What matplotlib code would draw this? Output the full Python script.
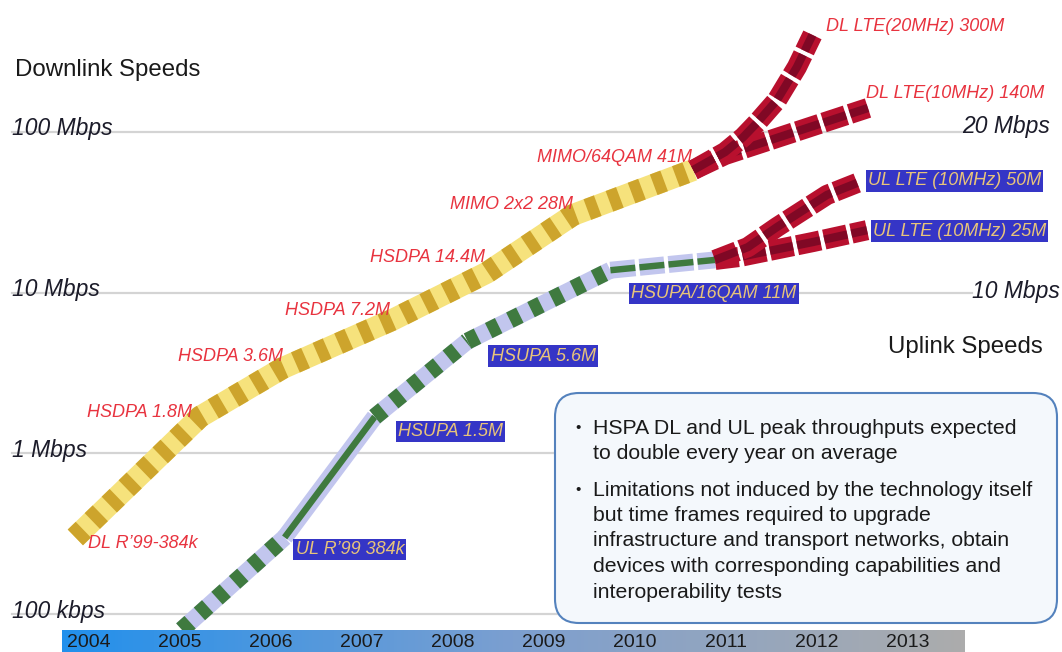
import numpy as np
import matplotlib.pyplot as plt
from matplotlib.patches import FancyBboxPatch
from matplotlib.colors import LinearSegmentedColormap
from matplotlib.transforms import blended_transform_factory

plt.rcParams['font.family'] = ['Liberation Sans', 'DejaVu Sans']
plt.rcParams['lines.scale_dashes'] = False

# ---- data (x = year, y = Mbps) ----
years = list(range(2004, 2014))

dl_year = [2003.85, 2005.22, 2006.13, 2007.34, 2008.37, 2009.32, 2010.64]
dl_mbps = [0.30, 1.69, 3.4, 6.8, 13.3, 30.5, 58]
dl_labels = ["DL R\u201999-384k", "HSDPA 1.8M", "HSDPA 3.6M", "HSDPA 7.2M",
             "HSDPA 14.4M", "MIMO 2x2 28M", "MIMO/64QAM 41M"]

ul_year = [2005.02, 2006.15, 2007.14, 2008.16, 2009.73, 2010.88]
ul_mbps = [0.08, 0.30, 1.69, 5.0, 13.8, 16.0]
ul_labels = ["UL R\u201999 384k", "HSUPA 1.5M", "HSUPA 5.6M", "HSUPA/16QAM 11M"]

lte300_year = [2010.64, 2010.99, 2011.19, 2011.34, 2011.56, 2011.78, 2011.95]
lte300_mbps = [58, 75, 93, 114, 158, 254, 402]
lte140_year = [2010.64, 2010.99, 2012.56]
lte140_mbps = [58, 72, 141]
ul50_year = [2010.88, 2011.24, 2011.56, 2012.11, 2012.47]
ul50_mbps = [16.0, 19.2, 25.6, 40.6, 48.9]
ul25_year = [2010.88, 2011.15, 2011.96, 2012.55]
ul25_mbps = [16.0, 16.7, 20.7, 24.5]

grid_mbps = [0.1, 1, 10, 100]
grid_names = ["100 kbps", "1 Mbps", "10 Mbps", "100 Mbps"]

bullets = [
    ["HSPA DL and UL peak throughputs expected",
     "to double every year on average"],
    ["Limitations not induced by the technology itself",
     "but time frames required to upgrade",
     "infrastructure and transport networks, obtain",
     "devices with corresponding capabilities and",
     "interoperability tests"],
]

# ---- colours ----
RED_TXT = '#e8333f'
BOX_BLUE = '#3535c6'
BOX_TXT = '#e8c47a'
GOLD_LT, GOLD_DK = '#f6e27c', '#cda42c'
LAV, GREEN = '#c2c6ee', '#3f7a3f'
LTE, LTE_DK = '#b8102e', '#6e0622'

W, H = 1062, 652
fig = plt.figure(figsize=(W / 100, H / 100), dpi=100)


def px2year(px):
    return 2004 + (px - 89) / 91.0


def px2mbps(py):
    return 10 ** (2 - (py - 132) / 160.7)


ax = fig.add_axes([0, 22 / H, 1, 630 / H])
ax.set_yscale('log')
ax.set_xlim(px2year(0), px2year(W))
ax.set_ylim(px2mbps(630), px2mbps(0))
ax.axis('off')

# gridlines and their labels
ends = {0.1: 0.55, 1: 0.55, 10: 0.915, 100: 0.906}
for v, name in zip(grid_mbps, grid_names):
    ax.axhline(v, xmin=0.011, xmax=ends[v], color='#d4d4d4', lw=1.6, zorder=0)
ltr = blended_transform_factory(ax.transAxes, ax.transData)
for v, name in zip(grid_mbps, grid_names):
    ax.annotate(name, (12 / W, v), xycoords=ltr, xytext=(0, 3),
                textcoords='offset pixels', ha='left', va='center',
                fontsize=16.5, style='italic', color='#1c1c2a')
ax.annotate("20 Mbps", (962 / W, 100), xycoords=ltr, xytext=(0, 5),
            textcoords='offset pixels', ha='left', va='center',
            fontsize=16.5, style='italic', color='#1c1c2a')
ax.annotate("10 Mbps", (972 / W, 10), xycoords=ltr, xytext=(0, 1),
            textcoords='offset pixels', ha='left', va='center',
            fontsize=16.5, style='italic', color='#1c1c2a')


def striped(x, y, base, stripe, lw, z):
    ax.plot(x, y, color=base, lw=lw, solid_capstyle='butt',
            solid_joinstyle='miter', zorder=z)
    ax.plot(x, y, color=stripe, lw=lw, dashes=(8, 9),
            dash_capstyle='butt', zorder=z)


def banded(x, y, lw, z, dashes=None):
    kw = dict(dashes=dashes, dash_capstyle='butt') if dashes else dict(solid_capstyle='butt')
    ax.plot(x, y, color=LAV, lw=lw, zorder=z, **kw)
    ax.plot(x, y, color=GREEN, lw=lw * 0.38, zorder=z, **kw)


def lte(x, y, z):
    ax.plot(x, y, color=LTE, lw=14.5, dashes=(17, 3), dash_capstyle='butt',
            solid_joinstyle='round', zorder=z)
    ax.plot(x, y, color=LTE_DK, lw=6, dashes=(17, 3), dash_capstyle='butt',
            alpha=0.75, zorder=z)


# downlink HSPA
striped(dl_year, dl_mbps, GOLD_LT, GOLD_DK, 15.8, 3)
# uplink HSPA: segment styles follow the slide
for i in range(len(ul_year) - 1):
    xs, ys = ul_year[i:i + 2], ul_mbps[i:i + 2]
    if i == 1:
        banded(xs, ys, 12.2, 3)
    elif i == 4:
        banded(xs, ys, 12.2, 3, dashes=(18, 3))
    else:
        striped(xs, ys, LAV, GREEN, 12.2, 3)

# LTE
lte(ul25_year, ul25_mbps, 4)
lte(ul50_year, ul50_mbps, 4)
lte(lte140_year, lte140_mbps, 4)
lte(lte300_year, lte300_mbps, 5)

# labels
FS = 13
dl_off = [(13, -6), (-8, 4), (0, 11), (-3, 9), (-2, 15), (0, 10), (-1, 13)]
for i, (lab, off) in enumerate(zip(dl_labels, dl_off)):
    ax.annotate(lab, (dl_year[i], dl_mbps[i]), xytext=off,
                textcoords='offset pixels', ha='left' if i == 0 else 'right',
                va='center', fontsize=FS, style='italic', color=RED_TXT, zorder=6)
ax.annotate("DL LTE(20MHz) 300M", (lte300_year[-1], lte300_mbps[-1]), xytext=(14, 8),
            textcoords='offset pixels', ha='left', va='center', fontsize=FS,
            style='italic', color=RED_TXT)
ax.annotate("DL LTE(10MHz) 140M", (lte140_year[-1], lte140_mbps[-1]), xytext=(-2, 15),
            textcoords='offset pixels', ha='left', va='center', fontsize=FS,
            style='italic', color=RED_TXT)

box = dict(boxstyle='square,pad=0.12', fc=BOX_BLUE, ec='none')
ul_off = [(11, -12), (23, -15), (23, -15), (21, -23)]
for i, (lab, off) in enumerate(zip(ul_labels, ul_off)):
    ax.annotate(lab, (ul_year[i + 1], ul_mbps[i + 1]), xytext=off,
                textcoords='offset pixels', ha='left', va='center', fontsize=FS,
                style='italic', color=BOX_TXT, bbox=box, zorder=6)
ax.annotate("UL LTE (10MHz) 50M", (ul50_year[-1], ul50_mbps[-1]), xytext=(8, 1),
            textcoords='offset pixels', ha='left', va='center', fontsize=FS,
            style='italic', color=BOX_TXT, bbox=box, zorder=6)
ax.annotate("UL LTE (10MHz) 25M", (ul25_year[-1], ul25_mbps[-1]), xytext=(6, -1),
            textcoords='offset pixels', ha='left', va='center', fontsize=FS,
            style='italic', color=BOX_TXT, bbox=box, zorder=6)

# year band
band = fig.add_axes([0, 0, 1, 22 / H])
band.set_xlim(px2year(0), px2year(W))
band.set_ylim(0, 1)
band.axis('off')
cmap = LinearSegmentedColormap.from_list('band', ['#2290ec', '#7c9fd0', '#acacac'])
band.imshow(np.linspace(0, 1, 256)[None, :], extent=[px2year(62), px2year(965), 0, 1],
            aspect='auto', cmap=cmap)
for yr in years:
    band.text(yr, 0.03, str(yr), ha='center', va='bottom', fontsize=14, color='#1a1a1a')

# overlay in pixel coordinates for slide text
ov = fig.add_axes([0, 0, 1, 1], zorder=5)
ov.set_xlim(0, W)
ov.set_ylim(H, 0)
ov.axis('off')
ov.text(15, 70, "Downlink Speeds", ha='left', va='center', fontsize=17.3, color='#1a1a1a')
ov.text(888, 347, "Uplink Speeds", ha='left', va='center', fontsize=17.3, color='#1a1a1a')
ov.add_patch(FancyBboxPatch((555, 393), 502, 230, boxstyle='round,pad=0,rounding_size=24',
                            fc='#f4f8fc', ec='#5482bd', lw=1.5))
y = 428
for block in bullets:
    ov.text(578, y, "\u2022", ha='center', va='center', fontsize=11, color='#1a1a1a')
    for line in block:
        ov.text(593, y, line, ha='left', va='center', fontsize=15.3, color='#1a1a1a')
        y += 25.5
    y += 11

fig.savefig('out.png', dpi=100)
